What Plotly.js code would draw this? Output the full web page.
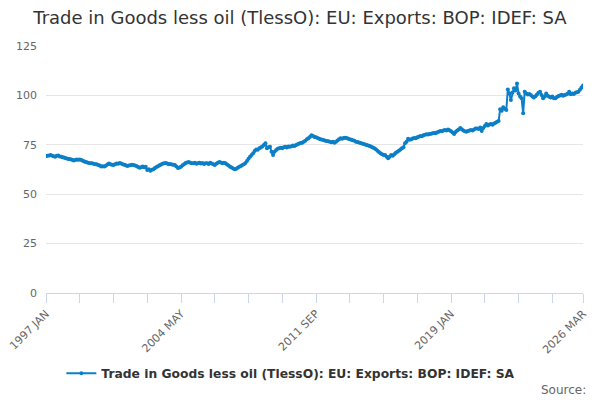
<!DOCTYPE html>
<html>
<head>
<meta charset="utf-8">
<script src="https://cdn.plot.ly/plotly-3.0.1.min.js"></script>
<style>
  html, body { margin: 0; padding: 0; background: #fff; }
  #chart { width: 600px; height: 400px; }
</style>
</head>
<body>
<div id="chart"></div>
<script>
// monthly values, one row per year
var years = [1997, 1998, 1999, 2000, 2001, 2002, 2003, 2004, 2005, 2006, 2007, 2008, 2009, 2010,
  2011, 2012, 2013, 2014, 2015, 2016, 2017, 2018, 2019, 2020, 2021, 2022, 2023, 2024, 2025, 2026];
var months = ['JAN','FEB','MAR','APR','MAY','JUN','JUL','AUG','SEP','OCT','NOV','DEC'];

var v1997 = [69.3, 69.5, 69.6, 69.8, 69.4, 69.2, 69.0, 69.4, 69.6, 69.1, 68.9, 68.7];
var v1998 = [68.5, 68.2, 68.0, 67.8, 67.7, 67.4, 67.0, 67.3, 67.5, 67.4, 67.6, 67.3];
var v1999 = [66.9, 66.5, 66.3, 66.0, 65.8, 65.6, 65.7, 65.4, 65.2, 65.1, 64.8, 64.5];
var v2000 = [64.0, 64.2, 64.0, 64.4, 65.0, 65.5, 65.1, 64.9, 64.8, 65.2, 65.5, 65.4];
var v2001 = [65.8, 65.5, 65.2, 64.9, 64.6, 64.3, 64.5, 64.7, 64.9, 64.8, 64.5, 64.3];
var v2002 = [63.8, 63.4, 63.7, 64.0, 63.6, 63.9, 62.3, 62.6, 61.9, 62.4, 62.6, 63.2];
var v2003 = [63.8, 64.2, 64.6, 65.0, 65.4, 65.6, 65.8, 65.5, 65.2, 65.3, 65.0, 64.9];
var v2004 = [64.8, 64.0, 63.2, 63.5, 63.9, 64.6, 65.2, 65.8, 66.0, 66.3, 65.9, 65.7];
var v2005 = [65.6, 65.9, 65.4, 65.7, 65.9, 65.5, 65.8, 65.3, 65.7, 65.6, 65.3, 65.9];
var v2006 = [65.5, 65.2, 64.8, 65.4, 65.9, 66.3, 66.0, 65.7, 65.9, 65.6, 65.0, 64.5];
var v2007 = [63.9, 63.5, 63.0, 62.6, 62.9, 63.4, 63.9, 64.3, 64.8, 65.2, 65.8, 66.8];
var v2008 = [68.0, 69.0, 69.8, 70.7, 71.8, 72.6, 72.5, 73.2, 73.6, 74.2, 74.9, 75.8];
var v2009 = [73.2, 73.8, 74.0, 71.5, 69.8, 71.5, 72.4, 73.0, 73.2, 73.5, 73.3, 73.7];
var v2010 = [74.0, 73.6, 74.2, 74.0, 74.3, 74.6, 74.4, 74.9, 75.3, 75.6, 75.9, 76.1];
var v2011 = [76.5, 77.0, 77.8, 78.3, 79.0, 79.8, 79.4, 79.0, 78.8, 78.5, 78.0, 77.8];
var v2012 = [77.6, 77.4, 77.1, 76.9, 76.8, 76.6, 76.3, 76.5, 76.0, 76.6, 77.2, 77.8];
var v2013 = [78.3, 78.0, 78.4, 78.6, 78.4, 78.1, 77.8, 77.5, 77.3, 77.0, 76.6, 76.4];
var v2014 = [76.2, 75.9, 75.7, 75.4, 75.2, 74.9, 74.6, 74.4, 74.0, 73.6, 73.2, 72.8];
var v2015 = [72.0, 71.3, 70.7, 70.2, 69.9, 69.8, 69.0, 68.2, 68.9, 69.8, 69.4, 70.2];
var v2016 = [71.0, 71.5, 72.0, 72.6, 73.2, 73.8, 75.8, 76.5, 78.0, 77.5, 77.8, 78.2];
var v2017 = [78.5, 78.3, 78.8, 79.1, 79.5, 79.3, 79.8, 80.1, 80.3, 80.2, 80.5, 80.6];
var v2018 = [80.8, 81.0, 80.9, 81.3, 81.6, 82.0, 81.8, 82.2, 82.5, 82.3, 82.8, 82.4];
var v2019 = [81.8, 81.2, 80.5, 81.5, 82.3, 82.8, 83.5, 82.9, 82.2, 81.9, 81.6, 82.0];
var v2020 = [82.3, 82.5, 82.2, 82.8, 83.2, 83.3, 83.0, 83.8, 82.0, 83.5, 84.5, 85.5];
var v2021 = [84.8, 85.3, 85.5, 85.2, 85.8, 86.2, 86.7, 87.0, 93.0, 92.2, 94.0, 93.2];
var v2022 = [92.6, 103.0, 101.0, 97.7, 101.5, 103.6, 102.5, 106.0, 101.0, 99.5, 98.5, 91.0];
var v2023 = [101.9, 101.0, 100.4, 100.7, 100.2, 99.5, 98.9, 99.6, 100.5, 101.4, 101.9, 100.2];
var v2024 = [98.5, 99.4, 101.0, 99.8, 99.3, 99.0, 99.5, 98.5, 98.5, 99.2, 99.7, 100.0];
var v2025 = [100.3, 99.8, 100.2, 100.5, 100.8, 101.9, 100.6, 101.0, 100.7, 101.3, 101.6, 101.9];
var v2026 = [102.8, 104.0, 105.0];

var yearValues = [v1997, v1998, v1999, v2000, v2001, v2002, v2003, v2004, v2005, v2006, v2007,
  v2008, v2009, v2010, v2011, v2012, v2013, v2014, v2015, v2016, v2017, v2018, v2019, v2020,
  v2021, v2022, v2023, v2024, v2025, v2026];

var labelled = ['1997 JAN', '2004 MAY', '2011 SEP', '2019 JAN', '2026 MAR'];
var yTicks = [0, 25, 50, 75, 100, 125];

var seriesName = 'Trade in Goods less oil (TlessO): EU: Exports: BOP: IDEF: SA';

var cats = [];
var vals = [];
for (var y = 0; y < years.length; y++) {
  for (var m = 0; m < yearValues[y].length; m++) {
    cats.push(years[y] + ' ' + months[m]);
    vals.push(yearValues[y][m]);
  }
}

// tick every 22 months, label every 4th one, plus the last month
var tickVals = [];
var tickText = [];
for (var i = 0; i < cats.length; i += 22) {
  tickVals.push(cats[i]);
  tickText.push(labelled.indexOf(cats[i]) >= 0 ? cats[i] : '');
}
var last = cats[cats.length - 1];
if (tickVals[tickVals.length - 1] != last) {
  tickVals.push(last);
  tickText.push(last);
}

var trace = {
  x: cats,
  y: vals,
  type: 'scatter',
  mode: 'lines+markers',
  name: seriesName,
  line: { color: '#0b7fc7', width: 2 },
  marker: { color: '#0b7fc7', size: 4 }
};

var layout = {
  width: 600,
  height: 400,
  margin: { l: 46, r: 17, t: 46, b: 107 },
  paper_bgcolor: '#ffffff',
  plot_bgcolor: '#ffffff',
  font: { family: 'DejaVu Sans, sans-serif', color: '#333333' },
  title: {
    text: seriesName,
    x: 0.5,
    xanchor: 'center',
    y: 1 - 18 / 400,
    yref: 'container',
    yanchor: 'middle',
    font: { size: 18, color: '#333333' }
  },
  showlegend: true,
  legend: {
    orientation: 'h',
    x: 0.456,
    xanchor: 'center',
    y: -0.325,
    yanchor: 'middle',
    font: { size: 12.3, color: '#333333', weight: 'bold' }
  },
  xaxis: {
    type: 'category',
    range: [0, cats.length - 1],
    tickmode: 'array',
    tickvals: tickVals,
    ticktext: tickText,
    tickangle: -45,
    ticks: 'outside',
    ticklen: 9,
    tickcolor: '#ccd6eb',
    showgrid: false,
    showline: true,
    linecolor: '#ccd6eb',
    linewidth: 1,
    zeroline: false,
    tickfont: { size: 11, color: '#666666' }
  },
  yaxis: {
    range: [0, 125],
    tickmode: 'array',
    tickvals: yTicks,
    showgrid: true,
    gridcolor: '#e6e6e6',
    zeroline: false,
    showline: false,
    ticks: '',
    ticklabelstandoff: 8,
    tickfont: { size: 11, color: '#666666' }
  },
  annotations: [{
    text: 'Source:',
    xref: 'paper',
    yref: 'paper',
    x: 1 + 5 / 537,
    xanchor: 'right',
    y: -0.393,
    yanchor: 'middle',
    showarrow: false,
    font: { size: 12, color: '#666666' }
  }]
};

Plotly.newPlot('chart', [trace], layout, { displayModeBar: false, staticPlot: true });
</script>
</body>
</html>
